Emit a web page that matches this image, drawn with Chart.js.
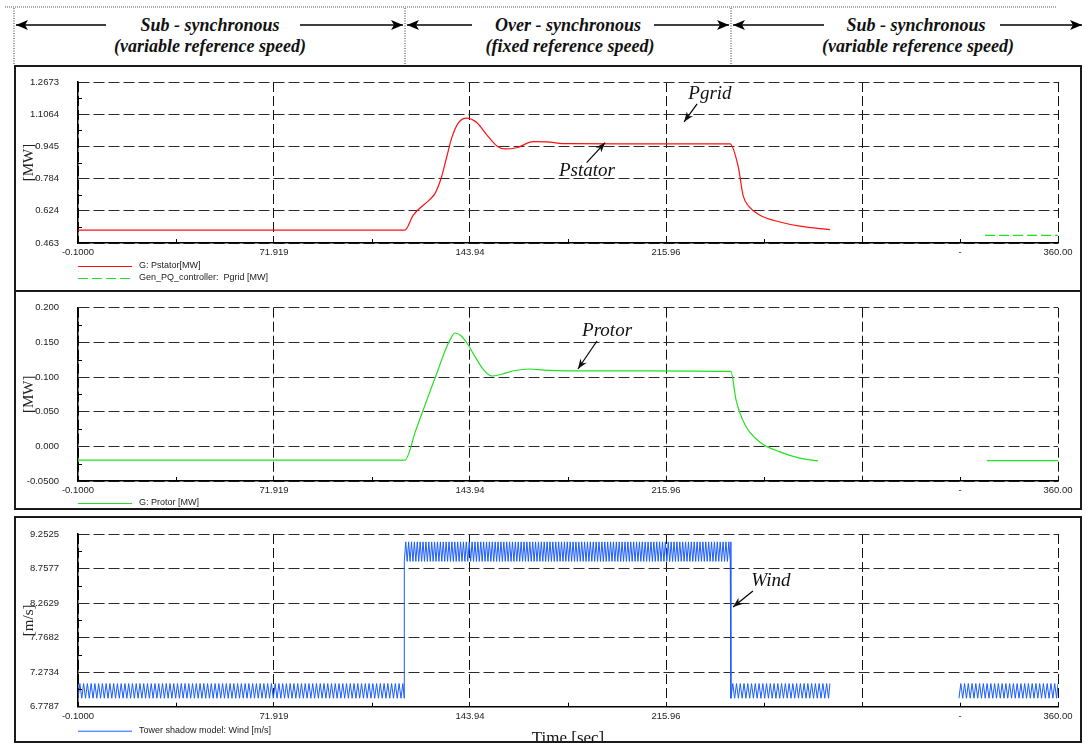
<!DOCTYPE html>
<html>
<head>
<meta charset="utf-8">
<script src="https://cdn.jsdelivr.net/npm/chart.js@4"></script>
<style>
body { margin: 0; background: #fff; }
#wrap { position: relative; width: 1086px; height: 744px; overflow: hidden; background: #fff; }
.frame { position: absolute; border: 2px solid #1a1a1a; box-sizing: border-box; }
canvas { position: absolute; }
#hdr { position: absolute; left: 0; top: 0; }
#hdr text { font-family: "Liberation Serif", "DejaVu Serif", serif; font-weight: bold; font-style: italic; font-size: 18px; fill: #111; }
</style>
</head>
<body>
<div id="wrap">
  <svg id="hdr" width="1086" height="66">
    <defs>
      <marker id="ah" viewBox="0 0 12 10" refX="12" refY="5" markerWidth="12" markerHeight="10" markerUnits="userSpaceOnUse" orient="auto">
        <path d="M0,0 L12,5 L0,10 L3,5 z" fill="#000"/>
      </marker>
    </defs>
    <line x1="5" y1="7" x2="1056" y2="7" stroke="#555" stroke-dasharray="1,1"/>
    <line x1="14" y1="8" x2="14" y2="65" stroke="#333" stroke-dasharray="1,1.5"/>
    <line x1="405" y1="8" x2="405" y2="65" stroke="#333" stroke-dasharray="1,1.5"/>
    <line x1="731" y1="8" x2="731" y2="65" stroke="#333" stroke-dasharray="1,1.5"/>
    <g stroke="#000" stroke-width="1.5" marker-end="url(#ah)">
      <line x1="106" y1="25" x2="16" y2="25"/>
      <line x1="300" y1="25" x2="403" y2="25"/>
      <line x1="472" y1="25" x2="407" y2="25"/>
      <line x1="654" y1="25" x2="729" y2="25"/>
      <line x1="824" y1="25" x2="733" y2="25"/>
      <line x1="1000" y1="25" x2="1082" y2="25"/>
    </g>
    <text x="210" y="31" text-anchor="middle">Sub - synchronous</text>
    <text x="210" y="52" text-anchor="middle">(variable reference speed)</text>
    <text x="568" y="31" text-anchor="middle">Over - synchronous</text>
    <text x="570" y="52" text-anchor="middle">(fixed reference speed)</text>
    <text x="916" y="31" text-anchor="middle">Sub - synchronous</text>
    <text x="918" y="52" text-anchor="middle">(variable reference speed)</text>
  </svg>

  <div class="frame" style="left:14px;top:65px;width:1068px;height:227px"></div>
  <div class="frame" style="left:14px;top:290px;width:1068px;height:220px"></div>
  <div class="frame" style="left:14px;top:516px;width:1068px;height:227px"></div>

  <canvas id="c1" width="1064" height="222" style="left:16px;top:67px"></canvas>
  <canvas id="c2" width="1064" height="214" style="left:16px;top:293px"></canvas>
  <canvas id="c3" width="1064" height="222" style="left:16px;top:519px"></canvas>
</div>

<script>
// x axis (time, s)
const X_MIN = -0.1, X_MAX = 360;
const xTickValues = [-0.1, 71.919, 143.94, 215.96, 287.98, 324, 360];
const xTickLabels = ['-0.1000', '71.919', '143.94', '215.96', '', '-', '360.00'];
const xNoGrid = [324];

// y axis ticks
const pTickValues = [0.463, 0.624, 0.784, 0.945, 1.1064, 1.2673];
const pTickLabels = ['0.463', '0.624', '0.784', '0.945', '1.1064', '1.2673'];
const rTickValues = [-0.05, 0, 0.05, 0.1, 0.15, 0.2];
const rTickLabels = ['-0.0500', '0.000', '0.050', '0.100', '0.150', '0.200'];
const wTickValues = [6.7787, 7.2734, 7.7682, 8.2629, 8.7577, 9.2525];
const wTickLabels = ['6.7787', '7.2734', '7.7682', '8.2629', '8.7577', '9.2525'];

// Pstator [MW]
const statorTime = [-0.1, 60, 120.0, 123.1, 129.2, 131.1, 133.5, 135.4, 137.2, 139.6, 142.7, 146.4, 150.1, 153.8, 156.8, 161.1, 167.2, 172.1, 179.5, 200, 239.5, 242.5, 244.3, 246.5, 250.5, 257.8, 265.2, 276.2];
const statorMW   = [0.527, 0.527, 0.527, 0.602, 0.681, 0.711, 0.794, 0.894, 0.987, 1.062, 1.087, 1.065, 1.003, 0.948, 0.933, 0.939, 0.969, 0.968, 0.959, 0.958, 0.958, 0.844, 0.700, 0.645, 0.602, 0.568, 0.547, 0.530];

// Pgrid [MW] (only the visible piece)
const gridTime = [333.2, 360];
const gridMW   = [0.501, 0.501];

// Protor [MW]
const rotorTime = [-0.1, 60, 120, 124, 128, 132, 135, 136.8, 138.4, 140.5, 143, 146, 149, 152, 155.5, 160, 166, 171, 180, 210, 239.8, 241.7, 245, 250.5, 257.8, 265.2, 271.8];
const rotorMW   = [-0.020, -0.020, -0.020, 0.023, 0.066, 0.108, 0.140, 0.155, 0.1635, 0.160, 0.148, 0.128, 0.110, 0.1015, 0.104, 0.109, 0.1116, 0.110, 0.109, 0.109, 0.108, 0.067, 0.031, 0.006, -0.008, -0.017, -0.021];
const rotorTailTime = [333.9, 360];
const rotorTailMW   = [-0.0207, -0.0207];

// Wind [m/s] : tower shadow ripple, one entry per segment
const windStart  = [-0.1, 119.8, 239.8, 323.6];
const windEnd    = [119.8, 239.8, 276.2, 360];
const windLow    = [6.90, 8.86, 6.90, 6.90];
const windHigh   = [7.11, 9.14, 7.11, 7.11];
const windPeriod = [1.38, 1.06, 1.38, 1.38];
const windGapAfter = [2];

function pts(xs, ys) { return xs.map((x, i) => ({ x: x, y: ys[i] })); }

function windPoints() {
  const out = [];
  for (let s = 0; s < windStart.length; s++) {
    const half = windPeriod[s] / 2;
    let k = 0;
    for (let t = windStart[s]; t < windEnd[s]; t += half, k++) {
      out.push({ x: t, y: k % 2 ? windHigh[s] : windLow[s] });
    }
    out.push({ x: windEnd[s], y: k % 2 ? windHigh[s] : windLow[s] });
    if (windGapAfter.includes(s)) out.push({ x: windEnd[s] + 1, y: null });
  }
  return out;
}

function arrow(ctx, x0, y0, x1, y1) {
  ctx.beginPath(); ctx.moveTo(x0, y0); ctx.lineTo(x1, y1); ctx.stroke();
  const a = Math.atan2(y1 - y0, x1 - x0), L = 10, W = 3.8;
  const c = Math.cos(a), s = Math.sin(a);
  ctx.beginPath();
  ctx.moveTo(x1, y1);
  ctx.lineTo(x1 - L * c + W * s, y1 - L * s - W * c);
  ctx.lineTo(x1 - 0.7 * L * c, y1 - 0.7 * L * s);
  ctx.lineTo(x1 - L * c - W * s, y1 - L * s + W * c);
  ctx.closePath(); ctx.fill();
}

const decor = {
  id: 'decor',
  afterDraw(chart, args, o) {
    const { ctx, chartArea: a, scales: { x, y } } = chart;
    ctx.save();
    ctx.strokeStyle = '#000'; ctx.fillStyle = '#000'; ctx.lineWidth = 1;

    // minor ticks, pointing inside
    const xm = xTickValues.filter(v => !xNoGrid.includes(v));
    const ym = o.yTicks;
    ctx.beginPath();
    for (let i = 0; i < xm.length - 1; i++) {
      const px = Math.round(x.getPixelForValue((xm[i] + xm[i + 1]) / 2)) + 0.5;
      ctx.moveTo(px, a.bottom); ctx.lineTo(px, a.bottom - 4);
    }
    for (let i = 0; i < ym.length - 1; i++) {
      const py = Math.round(y.getPixelForValue((ym[i] + ym[i + 1]) / 2)) + 0.5;
      ctx.moveTo(a.left, py); ctx.lineTo(a.left + 4, py);
    }
    ctx.stroke();

    // legend
    ctx.font = '9px "Liberation Sans", Arial, sans-serif';
    ctx.textBaseline = 'middle'; ctx.textAlign = 'left';
    chart.data.datasets.forEach((ds, i) => {
      const ly = a.bottom + o.legendY + i * 12;
      ctx.save();
      ctx.strokeStyle = ds.borderColor; ctx.lineWidth = 1;
      ctx.setLineDash(ds.borderDash || []);
      ctx.beginPath(); ctx.moveTo(a.left, ly + 0.5); ctx.lineTo(a.left + 54, ly + 0.5); ctx.stroke();
      ctx.restore();
      ctx.fillStyle = '#222';
      ctx.fillText(ds.label, a.left + 61, ly);
    });

    // annotations
    ctx.font = 'italic 19px "Liberation Serif", "DejaVu Serif", serif';
    ctx.textAlign = 'center'; ctx.textBaseline = 'middle';
    ctx.lineWidth = 1.2;
    (o.notes || []).forEach(n => {
      ctx.fillStyle = '#111';
      ctx.fillText(n.text, x.getPixelForValue(n.at[0]), y.getPixelForValue(n.at[1]));
      arrow(ctx, x.getPixelForValue(n.from[0]), y.getPixelForValue(n.from[1]),
                 x.getPixelForValue(n.to[0]), y.getPixelForValue(n.to[1]));
    });

    if (o.xTitle) {
      ctx.font = '17px "Liberation Serif", "DejaVu Serif", serif';
      ctx.textBaseline = 'top'; ctx.fillStyle = '#111';
      ctx.fillText(o.xTitle, (a.left + a.right) / 2, a.bottom + 23);
    }
    ctx.restore();
  }
};

function panel(id, cfg) {
  const tickFont = { family: '"Liberation Sans", Arial, sans-serif', size: 9.5 };
  return new Chart(document.getElementById(id), {
    type: 'line',
    data: { datasets: cfg.datasets },
    options: {
      responsive: false,
      animation: false,
      devicePixelRatio: 1,
      parsing: false,
      normalized: true,
      elements: { point: { radius: 0 }, line: { borderWidth: 1.2 } },
      layout: { autoPadding: false, padding: { top: cfg.padTop, right: 22, left: 0, bottom: 0 } },
      plugins: {
        legend: { display: false },
        tooltip: { enabled: false },
        decor: { yTicks: cfg.yTicks, legendY: cfg.legendY, notes: cfg.notes, xTitle: cfg.xTitle }
      },
      scales: {
        x: {
          type: 'linear', min: X_MIN, max: X_MAX,
          afterBuildTicks: s => { s.ticks = xTickValues.map(v => ({ value: v })); },
          afterFit: s => { s.height = cfg.xHeight; },
          ticks: { autoSkip: false, maxRotation: 0, padding: 4, font: tickFont, color: '#222',
                   callback: (v, i) => xTickLabels[i] },
          grid: { drawTicks: false, lineWidth: 1,
                  color: c => (c.tick && xNoGrid.includes(c.tick.value)) ? 'rgba(0,0,0,0)' : '#111' },
          border: { display: true, color: '#000', width: 1.5, dash: [10, 4] }
        },
        y: {
          type: 'linear', min: cfg.yTicks[0], max: cfg.yTicks[cfg.yTicks.length - 1],
          afterBuildTicks: s => { s.ticks = cfg.yTicks.map(v => ({ value: v })); },
          afterFit: s => { s.width = 62; },
          ticks: { autoSkip: false, padding: 0, font: tickFont, color: '#222',
                   callback: (v, i) => cfg.yLabels[i] },
          grid: { drawTicks: true, tickLength: 19, tickColor: 'rgba(0,0,0,0)', lineWidth: 1, color: '#2a2a2a' },
          border: { display: true, color: '#000', width: 1.5, dash: [11, 4] },
          title: { display: true, text: cfg.yTitle, color: '#222', padding: { top: 4, bottom: 0 },
                   font: { family: '"Liberation Serif", "DejaVu Serif", serif', size: 15 } }
        }
      }
    },
    plugins: [decor]
  });
}

panel('c1', {
  padTop: 15, xHeight: 46, legendY: 23,
  yTicks: pTickValues, yLabels: pTickLabels, yTitle: '[MW]',
  datasets: [
    { label: 'G: Pstator[MW]', data: pts(statorTime, statorMW), borderColor: '#ff1010',
      cubicInterpolationMode: 'monotone' },
    { label: 'Gen_PQ_controller:  Pgrid [MW]', data: pts(gridTime, gridMW), borderColor: '#22e022',
      borderDash: [10, 4] }
  ],
  notes: [
    { text: 'Pgrid',   at: [232.1, 1.2084], from: [227.4, 1.1585], to: [222.6, 1.0683] },
    { text: 'Pstator', at: [186.9, 0.8226], from: [186.8, 0.8642], to: [193.6, 0.9645] }
  ]
});

panel('c2', {
  padTop: 14.7, xHeight: 26, legendY: 22,
  yTicks: rTickValues, yLabels: rTickLabels, yTitle: '[MW]',
  datasets: [
    { label: 'G: Protor [MW]',
      data: pts(rotorTime, rotorMW).concat([{ x: 300, y: null }], pts(rotorTailTime, rotorTailMW)),
      borderColor: '#22e022', cubicInterpolationMode: 'monotone', spanGaps: false }
  ],
  notes: [
    { text: 'Protor', at: [194.3, 0.1664], from: [190.6, 0.152], to: [183.6, 0.1116] }
  ]
});

panel('c3', {
  padTop: 15, xHeight: 34.3, legendY: 24,
  yTicks: wTickValues, yLabels: wTickLabels, yTitle: '[m/s]',
  datasets: [
    { label: 'Tower shadow model: Wind [m/s]', data: windPoints(), borderColor: '#1a5cff',
      borderWidth: 1, spanGaps: false }
  ],
  notes: [
    { text: 'Wind', at: [254.5, 8.579], from: [247.9, 8.436], to: [240.6, 8.207] }
  ],
  xTitle: 'Time [sec]'
});
</script>
</body>
</html>
